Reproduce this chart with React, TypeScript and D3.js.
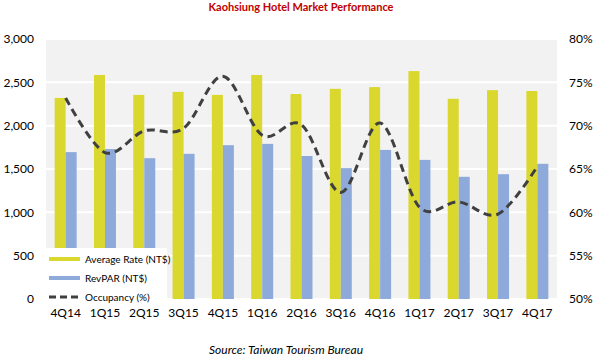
import React from "react";
import * as d3 from "d3";

// quarters and values
const quarters = ["4Q14", "1Q15", "2Q15", "3Q15", "4Q15", "1Q16", "2Q16", "3Q16", "4Q16", "1Q17", "2Q17", "3Q17", "4Q17"];
const averageRate = [2320, 2585, 2355, 2390, 2355, 2585, 2365, 2425, 2445, 2630, 2310, 2410, 2400];
const revPar = [1695, 1730, 1625, 1675, 1775, 1790, 1650, 1510, 1720, 1605, 1410, 1440, 1560];
const occupancy = [73.2, 66.9, 69.4, 69.7, 75.7, 68.9, 70.1, 62.3, 70.3, 60.6, 61.2, 59.8, 65.3];
const leftTicks = [0, 500, 1000, 1500, 2000, 2500, 3000];
const rightTicks = [50, 55, 60, 65, 70, 75, 80];

const W = 597,
  H = 359;
const margin = { top: 39, right: 40, bottom: 60, left: 46 };
const font = "Lato, 'Noto Sans', sans-serif";

const App = () => {
  const plotW = W - margin.left - margin.right;
  const plotH = H - margin.top - margin.bottom;

  const x = d3.scaleBand().domain(quarters).range([margin.left, margin.left + plotW]);
  const y = d3.scaleLinear().domain([0, 3000]).range([margin.top + plotH, margin.top]);
  const y2 = d3.scaleLinear().domain([50, 80]).range([margin.top + plotH, margin.top]);
  const barW = 11;

  const line = d3
    .line<number>()
    .x((d, i) => x(quarters[i])! + x.bandwidth() / 2)
    .y((d) => y2(d))
    .curve(d3.curveCardinal.tension(0));

  return (
    <div style={{ position: "absolute", left: 0, top: 0 }}>
      <svg width={W} height={H} style={{ display: "block", background: "#fff" }}>
        <text x={301} y={11} textAnchor="middle" fontFamily={font} fontSize={11} fontWeight="bold" fill="#c00000">
          Kaohsiung Hotel Market Performance
        </text>

        {/* plot background + grid */}
        <rect x={margin.left} y={margin.top} width={plotW} height={plotH} fill="#f2f2f2" />
        {leftTicks.map((t) => (
          <line key={t} x1={margin.left} x2={margin.left + plotW} y1={y(t)} y2={y(t)} stroke="#fff" strokeWidth={2} />
        ))}

        {/* bars */}
        {quarters.map((q, i) => {
          const cx = x(q)! + x.bandwidth() / 2;
          return (
            <g key={q}>
              <rect x={cx - barW} y={y(averageRate[i])} width={barW} height={y(0) - y(averageRate[i])} fill="#dad72e" />
              <rect x={cx} y={y(revPar[i])} width={barW} height={y(0) - y(revPar[i])} fill="#8eaadb" />
            </g>
          );
        })}

        {/* occupancy */}
        <path d={line(occupancy)!} fill="none" stroke="#404040" strokeWidth={3} strokeDasharray="8,5" />

        {/* left axis */}
        {leftTicks.map((t) => (
          <text key={t} x={34} y={y(t)} dy="0.35em" textAnchor="end" fontFamily={font} fontSize={12} fill="#000">
            {d3.format(",")(t)}
          </text>
        ))}

        {/* right axis */}
        {rightTicks.map((t) => (
          <text key={t} x={569} y={y2(t)} dy="0.35em" fontFamily={font} fontSize={12} fill="#000">
            {t}%
          </text>
        ))}

        {/* legend */}
        <rect x={margin.left} y={248} width={121} height={57} fill="#fff" />
        <rect x={49} y={257} width={31} height={4} fill="#dad72e" />
        <text x={85} y={259} dy="0.35em" fontFamily={font} fontSize={10} fill="#000">
          Average Rate (NT$)
        </text>
        <rect x={49} y={276} width={31} height={4} fill="#8eaadb" />
        <text x={85} y={278} dy="0.35em" fontFamily={font} fontSize={10} fill="#000">
          RevPAR (NT$)
        </text>
        <line x1={49} x2={80} y1={297} y2={297} stroke="#404040" strokeWidth={3} strokeDasharray="7,4" />
        <text x={85} y={297} dy="0.35em" fontFamily={font} fontSize={10} fill="#000">
          Occupancy (%)
        </text>

        {/* x labels */}
        {quarters.map((q) => (
          <text key={q} x={x(q)! + x.bandwidth() / 2} y={313} dy="0.35em" textAnchor="middle" fontFamily={font} fontSize={12} fill="#000">
            {q}
          </text>
        ))}

        <text x={286} y={350} dy="0.35em" textAnchor="middle" fontFamily={font} fontSize={12} fontStyle="italic" fill="#000">
          Source: Taiwan Tourism Bureau
        </text>
      </svg>
    </div>
  );
};

export default App;
